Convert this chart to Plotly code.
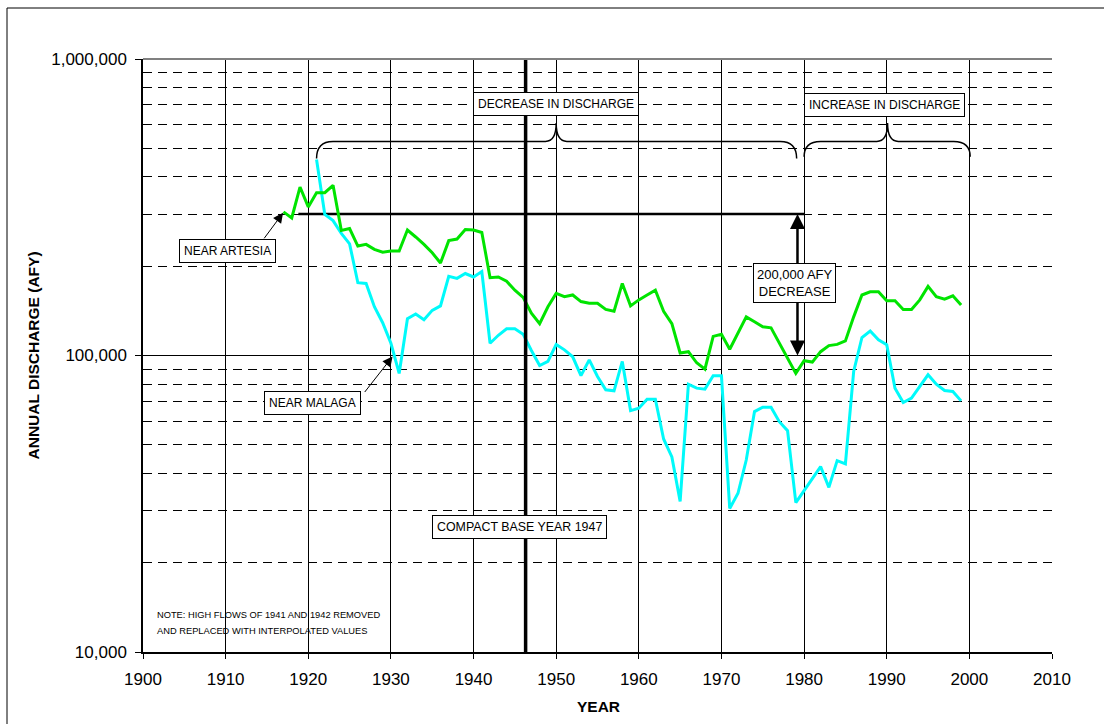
import plotly.graph_objects as go
import math

# ---------------- data ----------------
artesia_years = list(range(1917, 2000))
artesia_afy = [
    305000, 291000, 370000, 317000, 354000, 354000, 375000, 264000, 268000, 234000,
    237000, 228000, 223000, 225000, 225000, 265000, 251000, 237000, 222000, 205000,
    244000, 247000, 266000, 265000, 260000, 183000, 184000, 178000, 166000, 157000,
    139000, 128000, 146000, 162000, 158000, 160000, 152000, 150000, 150000, 143000,
    141000, 175000, 147000, 154000, 160000, 166000, 141000, 128000, 102000, 103000,
    94500, 90000, 116000, 118000, 105000, 119000, 135000, 130000, 125000, 124000,
    110000, 98000, 87000, 96000, 95000, 103000, 108000, 109000, 112000, 135000,
    160000, 164000, 164000, 153000, 153000, 143000, 143000, 154000, 171000, 158000,
    155000, 159000, 148000,
]

malaga_years = list(range(1921, 2000))
malaga_afy = [
    458000, 299000, 285000, 258000, 238000, 176000, 175000, 146000, 129000, 110000,
    87000, 133000, 138000, 132000, 142000, 147000, 185000, 182000, 189000, 184000,
    192000, 110000, 117000, 123000, 123000, 118000, 104000, 92500, 95500, 109000,
    104500, 99000, 85500, 96700, 85000, 76600, 76000, 95500, 65200, 66400,
    71200, 71200, 52300, 45500, 32200, 80000, 77600, 77000, 85400, 85400,
    30500, 34300, 44400, 64700, 66900, 66900, 59800, 55800, 31900, 34900,
    38500, 42200, 35900, 44200, 43100, 88300, 115000, 121000, 113000, 108700,
    77600, 69400, 71800, 78600, 86100, 80000, 76200, 75600, 70300,
]

x_ticks = list(range(1900, 2011, 10))
y_major = [10000, 100000, 1000000]
y_major_text = ["10,000", "100,000", "1,000,000"]
y_minor = [m * 10 ** e for e in (4, 5) for m in range(2, 10)]

compact_year = 1946.3
ref_line_years = [1918.8, 1980.0]
ref_line_afy = [300000, 300000]
decrease_arrow_year = 1979.2
decrease_top_afy = 300000
decrease_bottom_afy = 100000
artesia_arrow_tip = (1916.95, 302800)
malaga_arrow_tip = (1930.2, 99200)

GREEN = "#00E400"
CYAN = "#00FAFA"
FONT = "Liberation Sans, Arial, sans-serif"

fig = go.Figure()
fig.add_trace(go.Scatter(x=ref_line_years, y=ref_line_afy, mode="lines",
                         line=dict(color="black", width=2.5), hoverinfo="skip",
                         showlegend=False))
fig.add_trace(go.Scatter(x=malaga_years, y=malaga_afy, mode="lines", name="NEAR MALAGA",
                         line=dict(color=CYAN, width=3), showlegend=False))
fig.add_trace(go.Scatter(x=artesia_years, y=artesia_afy, mode="lines", name="NEAR ARTESIA",
                         line=dict(color=GREEN, width=3), showlegend=False))

# ---------------- shapes ----------------
shapes = []
# compact base year vertical line
shapes.append(dict(type="line", xref="x", yref="paper", x0=compact_year, x1=compact_year,
                   y0=0, y1=1, line=dict(color="black", width=3.5), layer="above"))
# top border of plot (grey)
shapes.append(dict(type="line", xref="paper", yref="paper", x0=0, x1=1, y0=1, y1=1,
                   line=dict(color="#808080", width=2)))
# outer border
shapes.append(dict(type="rect", xref="paper", yref="paper", x0=-0.1496, x1=1.2,
                   y0=-0.3, y1=1.086, line=dict(color="black", width=1)))


def brace(xl, xr, xt, yb, ym, yt, w=2.0, w2=1.3):
    return (f"M {xl},{yb} Q {xl},{ym} {xl + w},{ym} L {xt - w2},{ym} "
            f"Q {xt},{ym} {xt},{yt} Q {xt},{ym} {xt + w2},{ym} "
            f"L {xr - w},{ym} Q {xr},{ym} {xr},{yb}")


shapes.append(dict(type="path", xref="x", yref="paper",
                   path=brace(1921.0, 1979.1, 1950.0, 0.832, 0.861, 0.892),
                   line=dict(color="black", width=1.5)))
shapes.append(dict(type="path", xref="x", yref="paper",
                   path=brace(1980.0, 2000.1, 1990.1, 0.835, 0.861, 0.892),
                   line=dict(color="black", width=1.5)))

# ---------------- annotations ----------------
box = dict(showarrow=False, bgcolor="white", bordercolor="black", borderwidth=1,
           xref="paper", yref="paper", xanchor="center", yanchor="middle")
ann = []
# arrows first
ann.append(dict(x=artesia_arrow_tip[0], y=math.log10(artesia_arrow_tip[1]), xref="x", yref="y",
                text="", showarrow=True, ax=-20, ay=27, arrowhead=2, arrowsize=2,
                arrowwidth=1, arrowcolor="black", standoff=0))
ann.append(dict(x=malaga_arrow_tip[0], y=math.log10(malaga_arrow_tip[1]), xref="x", yref="y",
                text="", showarrow=True, ax=-29, ay=37, arrowhead=2, arrowsize=2,
                arrowwidth=1, arrowcolor="black", standoff=0))
ann.append(dict(x=decrease_arrow_year, y=math.log10(decrease_top_afy), xref="x", yref="y",
                text="", showarrow=True, ax=0, ay=72, arrowhead=2, arrowsize=1.2,
                arrowwidth=2.5, arrowcolor="black", standoff=0))
ann.append(dict(x=decrease_arrow_year, y=math.log10(decrease_bottom_afy), xref="x", yref="y",
                text="", showarrow=True, ax=0, ay=-72, arrowhead=2, arrowsize=1.2,
                arrowwidth=2.5, arrowcolor="black", standoff=0))
# boxes
ann.append(dict(box, x=0.4543, y=0.9233, text="DECREASE IN DISCHARGE",
                font=dict(family=FONT, size=12, color="black"), borderpad=4))
ann.append(dict(box, x=0.8152, y=0.9219, text="INCREASE IN DISCHARGE",
                font=dict(family=FONT, size=12, color="black"), borderpad=4))
ann.append(dict(box, x=0.0927, y=0.6762, text="NEAR ARTESIA",
                font=dict(family=FONT, size=12, color="black"), borderpad=4))
ann.append(dict(box, x=0.187, y=0.4202, text="NEAR MALAGA",
                font=dict(family=FONT, size=12, color="black"), borderpad=4))
ann.append(dict(box, x=0.4147, y=0.2116, text="COMPACT BASE YEAR 1947",
                font=dict(family=FONT, size=12.4, color="black"), borderpad=4))
ann.append(dict(box, x=0.7165, y=0.6218, text="200,000 AFY<br>DECREASE",
                font=dict(family=FONT, size=13, color="black"), borderpad=3))
# note
ann.append(dict(showarrow=False, xref="paper", yref="paper", x=0.0132, y=0.0624,
                xanchor="left", yanchor="middle",
                text="NOTE: HIGH FLOWS OF 1941 AND 1942 REMOVED",
                font=dict(family=FONT, size=9.3, color="black")))
ann.append(dict(showarrow=False, xref="paper", yref="paper", x=0.0132, y=0.0359,
                xanchor="left", yanchor="middle",
                text="AND REPLACED WITH INTERPOLATED VALUES",
                font=dict(family=FONT, size=9.3, color="black")))
# axis titles
ann.append(dict(showarrow=False, xref="paper", yref="paper", x=0.5006, y=-0.0911,
                xanchor="center", yanchor="middle", text="<b>YEAR</b>",
                font=dict(family=FONT, size=15.5, color="black")))
ann.append(dict(showarrow=False, xref="paper", yref="paper", x=-0.121, y=0.5,
                xanchor="center", yanchor="middle", textangle=-90,
                text="<b>ANNUAL DISCHARGE (AFY)</b>",
                font=dict(family=FONT, size=15.5, color="black")))

fig.update_layout(
    width=1104, height=724,
    margin=dict(l=143, r=52, t=59, b=72),
    paper_bgcolor="white", plot_bgcolor="white",
    font=dict(family=FONT, color="black"),
    shapes=shapes, annotations=ann,
    showlegend=False,
    xaxis=dict(range=[1900, 2010], tickvals=x_ticks, showgrid=True, gridcolor="black",
               gridwidth=1, zeroline=False, showline=True, linecolor="black", linewidth=1.5,
               ticks="outside", ticklen=5, tickcolor="black", tickwidth=1,
               tickfont=dict(family=FONT, size=17, color="black"), ticklabelstandoff=6),
    yaxis=dict(type="log", range=[4, 6], tickvals=y_major, ticktext=y_major_text,
               showgrid=True, gridcolor="black", gridwidth=1, zeroline=False,
               showline=True, linecolor="black", linewidth=1.5,
               ticks="outside", ticklen=6, tickcolor="black", tickwidth=1,
               tickfont=dict(family=FONT, size=17, color="black"), ticklabelstandoff=5,
               minor=dict(tickvals=y_minor, showgrid=True, gridcolor="black",
                          gridwidth=1, griddash="9px,6px", ticks="")),
)

fig.write_html("out.html")
